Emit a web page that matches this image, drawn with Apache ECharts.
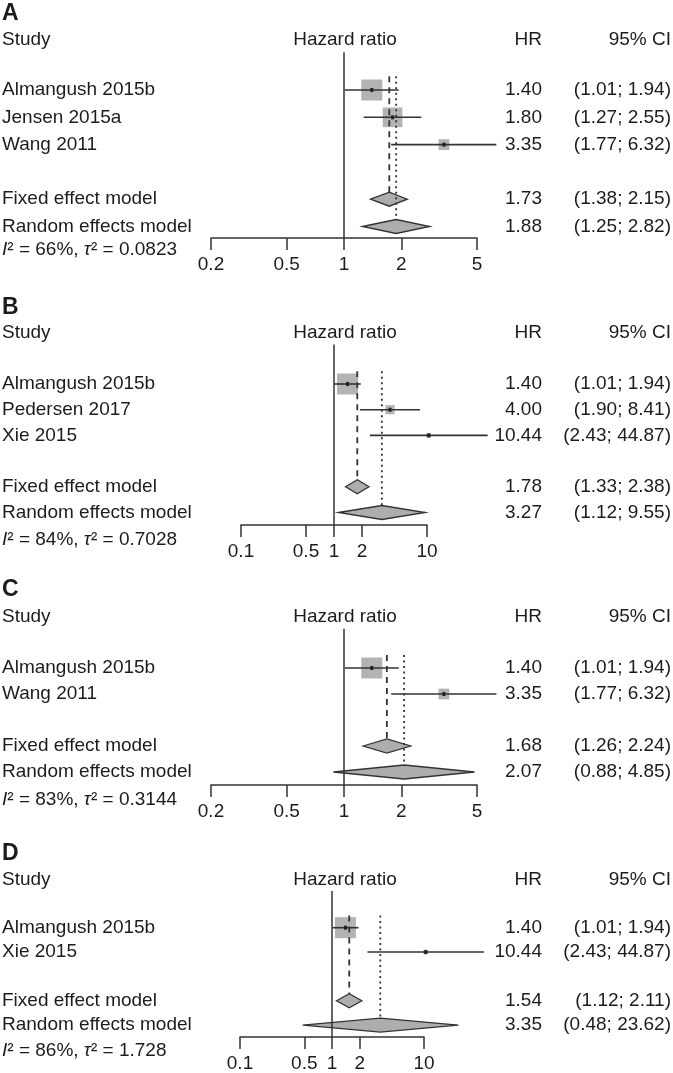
<!DOCTYPE html>
<html><head><meta charset="utf-8">
<script src="https://cdn.jsdelivr.net/npm/echarts@6/dist/echarts.min.js"></script>
<style>html,body{margin:0;padding:0;background:#fff}#c{width:673px;height:1073px}</style>
</head><body><div id="c"></div>
<script>
// ---------------- DATA ----------------
const panelLetters = ['A', 'B', 'C', 'D'];

const studiesA = ['Almangush 2015b', 'Jensen 2015a', 'Wang 2011'];
const hrA = [1.40, 1.80, 3.35];
const lowerA = [1.01, 1.27, 1.77];
const upperA = [1.94, 2.55, 6.32];
const fixedA = [1.73, 1.38, 2.15];   // estimate, lower, upper
const randomA = [1.88, 1.25, 2.82];
const hetA = ['66%', '0.0823'];
const ticksA = [0.2, 0.5, 1, 2, 5];

const studiesB = ['Almangush 2015b', 'Pedersen 2017', 'Xie 2015'];
const hrB = [1.40, 4.00, 10.44];
const lowerB = [1.01, 1.90, 2.43];
const upperB = [1.94, 8.41, 44.87];
const fixedB = [1.78, 1.33, 2.38];
const randomB = [3.27, 1.12, 9.55];
const hetB = ['84%', '0.7028'];
const ticksB = [0.1, 0.5, 1, 2, 10];

const studiesC = ['Almangush 2015b', 'Wang 2011'];
const hrC = [1.40, 3.35];
const lowerC = [1.01, 1.77];
const upperC = [1.94, 6.32];
const fixedC = [1.68, 1.26, 2.24];
const randomC = [2.07, 0.88, 4.85];
const hetC = ['83%', '0.3144'];
const ticksC = [0.2, 0.5, 1, 2, 5];

const studiesD = ['Almangush 2015b', 'Xie 2015'];
const hrD = [1.40, 10.44];
const lowerD = [1.01, 2.43];
const upperD = [1.94, 44.87];
const fixedD = [1.54, 1.12, 2.11];
const randomD = [3.35, 0.48, 23.62];
const hetD = ['86%', '1.728'];
const ticksD = [0.1, 0.5, 1, 2, 10];

const headerLabels = ['Study', 'Hazard ratio', 'HR', '95% CI'];
const summaryLabels = ['Fixed effect model', 'Random effects model'];

// ---------------- LAYOUT / STYLE ----------------
const FONT = '"Liberation Sans", Arial, Helvetica, sans-serif';
const FS = 19;
const TXT = '#1c1c1c';
const LINE = '#333333';
const layout = [
  { letterY: 14,  headerY: 40,  row0Y: 90,  rowH: 27.3, axisY: 238,  axisL: 211, axisR: 477, hetY: 250 },
  { letterY: 308, headerY: 333, row0Y: 384, rowH: 25.7, axisY: 525,  axisL: 241, axisR: 427, hetY: 540 },
  { letterY: 590, headerY: 617, row0Y: 668, rowH: 26.0, axisY: 785,  axisL: 211, axisR: 477, hetY: 800 },
  { letterY: 853, headerY: 880, row0Y: 928, rowH: 24.5, axisY: 1038, axisL: 240, axisR: 424, hetY: 1052 }
];
const X_LEFT = 2, X_HAZ = 345, X_HR = 542, X_CI = 671;
const MAX_BOX = 21, DIAMOND_H = 7;

const panels = [
  { studies: studiesA, hr: hrA, lo: lowerA, hi: upperA, fixed: fixedA, random: randomA, het: hetA, ticks: ticksA },
  { studies: studiesB, hr: hrB, lo: lowerB, hi: upperB, fixed: fixedB, random: randomB, het: hetB, ticks: ticksB },
  { studies: studiesC, hr: hrC, lo: lowerC, hi: upperC, fixed: fixedC, random: randomC, het: hetC, ticks: ticksC },
  { studies: studiesD, hr: hrD, lo: lowerD, hi: upperD, fixed: fixedD, random: randomD, het: hetD, ticks: ticksD }
];

const lg = v => Math.log10(v);
const f2 = v => v.toFixed(2);
const fmtTick = v => String(parseFloat(Math.pow(10, v).toPrecision(6)));
const weightOf = (lo, hi) => { const se = (Math.log(hi) - Math.log(lo)) / (2 * 1.959964); return 1 / (se * se); };

const grids = [], xAxes = [], yAxes = [], series = [];

panels.forEach((p, i) => {
  const L = layout[i];
  const n = p.studies.length;
  const fixedRow = n + 1, randomRow = n + 2;
  const toRow = y => (y - L.row0Y) / L.rowH;
  const yMin = -2, yMax = (L.axisY - L.row0Y) / L.rowH;
  const top = L.row0Y + yMin * L.rowH;

  grids.push({ left: L.axisL, top: top, width: L.axisR - L.axisL, height: L.axisY - top, containLabel: false });
  const tv = p.ticks.map(lg);
  xAxes.push({
    gridIndex: i, type: 'value', position: 'bottom',
    min: tv[0], max: tv[tv.length - 1],
    axisLine: { show: true, onZero: false, lineStyle: { color: LINE, width: 1.5 } },
    axisTick: { show: true, inside: false, length: 12, customValues: tv, lineStyle: { color: LINE, width: 1.5 } },
    axisLabel: { show: true, customValues: tv, formatter: fmtTick, fontSize: FS, fontFamily: FONT, color: TXT, margin: 17 },
    splitLine: { show: false }
  });
  yAxes.push({ gridIndex: i, type: 'value', inverse: true, min: yMin, max: yMax, show: false });

  // ---- table text ----
  const rows = [];
  rows.push({ row: toRow(L.letterY), left: panelLetters[i], bold: true });
  rows.push({ row: toRow(L.headerY), left: headerLabels[0], mid: headerLabels[1], hr: headerLabels[2], ci: headerLabels[3] });
  p.studies.forEach((s, k) => rows.push({ row: k, left: s, hr: f2(p.hr[k]), ci: '(' + f2(p.lo[k]) + '; ' + f2(p.hi[k]) + ')' }));
  rows.push({ row: fixedRow, left: summaryLabels[0], hr: f2(p.fixed[0]), ci: '(' + f2(p.fixed[1]) + '; ' + f2(p.fixed[2]) + ')' });
  rows.push({ row: randomRow, left: summaryLabels[1], hr: f2(p.random[0]), ci: '(' + f2(p.random[1]) + '; ' + f2(p.random[2]) + ')' });
  rows.push({ row: toRow(L.hetY), het: '{i|I}\u00B2 = ' + p.het[0] + ', {i|\u03C4}\u00B2 = ' + p.het[1] });

  const baseStyle = (text, align) => ({ text: text, fill: TXT, fontSize: FS, fontFamily: FONT, align: align, verticalAlign: 'middle' });
  series.push({
    type: 'custom', xAxisIndex: i, yAxisIndex: i, clip: false, silent: true,
    data: rows.map(r => [tv[0], r.row]),
    renderItem: (params, api) => {
      const r = rows[params.dataIndex];
      const y = api.coord([api.value(0), api.value(1)])[1];
      const ch = [];
      if (r.bold) {
        ch.push({ type: 'text', x: X_LEFT, y: y, style: Object.assign(baseStyle(r.left, 'left'), { fontSize: 23, fontWeight: 'bold' }) });
      } else if (r.het) {
        ch.push({ type: 'text', x: X_LEFT, y: y, style: Object.assign(baseStyle(r.het, 'left'), {
          rich: { i: { fontStyle: 'italic', fontSize: FS, fontFamily: FONT, fill: TXT } } }) });
      } else {
        if (r.left) ch.push({ type: 'text', x: X_LEFT, y: y, style: baseStyle(r.left, 'left') });
        if (r.mid) ch.push({ type: 'text', x: X_HAZ, y: y, style: baseStyle(r.mid, 'center') });
        if (r.hr) ch.push({ type: 'text', x: X_HR, y: y, style: baseStyle(r.hr, 'right') });
        if (r.ci) ch.push({ type: 'text', x: X_CI, y: y, style: baseStyle(r.ci, 'right') });
      }
      return { type: 'group', children: ch };
    }
  });

  // ---- study squares + CI ----
  const w = p.studies.map((s, k) => weightOf(p.lo[k], p.hi[k]));
  const wMax = Math.max.apply(null, w);
  series.push({
    type: 'custom', xAxisIndex: i, yAxisIndex: i, clip: false, silent: true,
    data: p.studies.map((s, k) => [lg(p.lo[k]), lg(p.hi[k]), lg(p.hr[k]), k, w[k] / wMax]),
    renderItem: (params, api) => {
      const row = api.value(3);
      const a = api.coord([api.value(0), row]), b = api.coord([api.value(1), row]), c = api.coord([api.value(2), row]);
      const side = MAX_BOX * Math.sqrt(api.value(4));
      return { type: 'group', children: [
        { type: 'rect', shape: { x: c[0] - side / 2, y: c[1] - side / 2, width: side, height: side }, style: { fill: '#b3b3b3' } },
        { type: 'line', shape: { x1: a[0], y1: a[1], x2: b[0], y2: b[1] }, style: { stroke: LINE, lineWidth: 1.6 } },
        { type: 'rect', shape: { x: c[0] - 1.5, y: c[1] - 2, width: 3, height: 4 }, style: { fill: '#222' } }
      ] };
    }
  });

  // ---- summary diamonds ----
  series.push({
    type: 'custom', xAxisIndex: i, yAxisIndex: i, clip: false, silent: true,
    data: [[lg(p.fixed[1]), lg(p.fixed[2]), lg(p.fixed[0]), fixedRow], [lg(p.random[1]), lg(p.random[2]), lg(p.random[0]), randomRow]],
    renderItem: (params, api) => {
      const row = api.value(3);
      const a = api.coord([api.value(0), row]), b = api.coord([api.value(1), row]), c = api.coord([api.value(2), row]);
      return { type: 'polygon', shape: { points: [[a[0], a[1]], [c[0], c[1] - DIAMOND_H], [b[0], b[1]], [c[0], c[1] + DIAMOND_H]] },
        style: { fill: '#adadad', stroke: LINE, lineWidth: 1.3 } };
    }
  });

  // ---- vertical lines: reference (1), fixed (dashed), random (dotted) ----
  const refTop = toRow(L.headerY) + 0.45;
  series.push({
    type: 'custom', xAxisIndex: i, yAxisIndex: i, clip: false, silent: true,
    data: [[lg(1), refTop, yMax, 0], [lg(p.fixed[0]), -0.5, fixedRow, 1], [lg(p.random[0]), -0.5, randomRow, 2]],
    renderItem: (params, api) => {
      const kind = api.value(3);
      const t = api.coord([api.value(0), api.value(1)]);
      const bt = api.coord([api.value(0), api.value(2)]);
      const y2 = kind === 0 ? bt[1] : bt[1] - DIAMOND_H;
      const dash = kind === 1 ? [6, 5] : (kind === 2 ? [2, 3.5] : null);
      return { type: 'line', shape: { x1: t[0], y1: t[1], x2: t[0], y2: y2 },
        style: { stroke: LINE, lineWidth: kind === 0 ? 1.5 : 1.8, lineDash: dash } };
    }
  });
});

const chart = echarts.init(document.getElementById('c'), null, { renderer: 'canvas' });
chart.setOption({
  animation: false,
  backgroundColor: '#ffffff',
  grid: grids, xAxis: xAxes, yAxis: yAxes, series: series
});
</script>
</body></html>
